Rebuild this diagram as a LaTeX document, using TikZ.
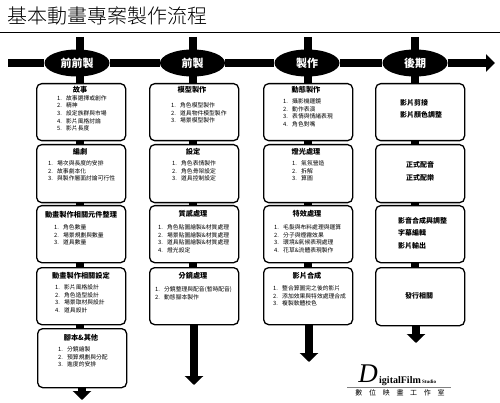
\documentclass[tikz,border=0pt]{standalone}
\usepackage{fontspec}
\setmainfont{Noto Sans CJK TC}
\newfontfamily\titlefont{Noto Sans CJK TC Light}
\newfontfamily\logofont{Liberation Serif}
\usetikzlibrary{arrows.meta,shapes.geometric}
\pgfdeclarelayer{back}
\pgfsetlayers{back,main}
\newcommand{\nm}[1]{\makebox[9pt][l]{#1.}}
\tikzset{
  x=1pt,y=-1pt,
  stage/.style={ellipse,fill=black,text=white,inner sep=0pt,minimum width=65pt,minimum height=27pt,font=\bfseries\fontsize{11}{11}\selectfont},
  card/.style={draw=black,line width=1.3pt,fill=white,rounded corners=5pt,minimum width=89pt,inner sep=0pt,anchor=north west},
  head/.style={font=\bfseries\fontsize{7.2}{8}\selectfont,inner sep=0pt},
  items/.style={anchor=north west,align=left,inner sep=0pt,font=\fontsize{5.8}{7.67}\selectfont},
  big/.style={anchor=west,inner sep=0pt,font=\bfseries\fontsize{7}{8}\selectfont},
  bar/.style={line width=8pt,draw=black},
  drop/.style={line width=8pt,draw=black,-{Triangle[length=9pt,width=18pt]}},
  mainarrow/.style={line width=8pt,draw=black,-{Triangle[length=9pt,width=17pt]}},
}
\begin{document}
\begin{tikzpicture}
\useasboundingbox (0,0) rectangle (500,403);
\node[anchor=west,inner sep=0pt,font=\titlefont\fontsize{20}{20}\selectfont] (title) at (7,16) {基本動畫專案製作流程};
\coordinate (ruleL) at (0,33); \coordinate (ruleR) at (500,33);
\draw[line width=1pt] (ruleL) -- (ruleR);

\coordinate (axisS) at (8,63); \coordinate (axisE) at (495,63);
\coordinate (t1) at (80,37); \coordinate (t2) at (193,37); \coordinate (t3) at (308,37); \coordinate (t4) at (415,37);
\coordinate (e1) at (82,400); \coordinate (e2) at (194,385); \coordinate (e3) at (309,362); \coordinate (e4) at (416,343);

\node[stage] (s1) at (77,63) {前前製};
\node[stage] (s2) at (192.5,63) {前製};
\node[stage] (s3) at (307,63) {製作};
\node[stage] (s4) at (415,63) {後期};

% column 1
\node[card,minimum height=57pt] (a1) at (36,83) {};
\node[card,minimum height=58pt] (a2) at (36,144) {};
\node[card,minimum height=57pt] (a3) at (36,205) {};
\node[card,minimum height=57pt] (a4) at (36,267) {};
\node[card,minimum height=59pt] (a5) at (37,328) {};
\node[head] (a1h) at (80,90) {故事};
\node[items] (a1l) at (57,95) {\nm1故事選擇或創作\\\nm2精神\\\nm3設定族群與市場\\\nm4影片風格討論\\\nm5影片長度};
\node[head] (a2h) at (80,152) {編劇};
\node[items] (a2l) at (48,160.5) {\nm1場次與長度的安排\\\nm2故事劇本化\\\nm3與製作層面討論可行性};
\node[head] (a3h) at (81,215) {動畫製作相關元件整理};
\node[items] (a3l) at (54,224.5) {\nm1角色數量\\\nm2場景規劃與數量\\\nm3道具數量};
\node[head] (a4h) at (81,276) {動畫製作相關設定};
\node[items] (a4l) at (55,284.5) {\nm1影片風格設計\\\nm2角色造型設計\\\nm3場景取材與設計\\\nm4道具設計};
\node[head] (a5h) at (81,338) {腳本\&其他};
\node[items] (a5l) at (58,346.5) {\nm1分鏡繪製\\\nm2預算規劃與分配\\\nm3進度的安排};

% column 2
\node[card,minimum height=57pt] (b1) at (149,83) {};
\node[card,minimum height=58pt] (b2) at (149,144) {};
\node[card,minimum height=57pt] (b3) at (149,205) {};
\node[card,minimum height=57pt] (b4) at (149,267) {};
\node[head] (b1h) at (192,89.5) {模型製作};
\node[items] (b1l) at (171,102.5) {\nm1角色模型製作\\\nm2道具物件模型製作\\\nm3場景模型製作};
\node[head] (b2h) at (193,152) {設定};
\node[items] (b2l) at (172,160.5) {\nm1角色表情製作\\\nm2角色骨架設定\\\nm3道具控制設定};
\node[head] (b3h) at (193,214) {質感處理};
\node[items] (b3l) at (158,224.5) {\nm1角色貼圖繪製\&材質處理\\\nm2場景貼圖繪製\&材質處理\\\nm3道具貼圖繪製\&材質處理\\\nm4燈光設定};
\node[head] (b4h) at (193,276) {分鏡處理};
\node[items] (b4l) at (155,286.5) {\nm1分鏡整理與配音(暫時配音)\\\nm2動態腳本製作};

% column 3
\node[card,minimum height=57pt] (c1) at (263,83) {};
\node[card,minimum height=58pt] (c2) at (263,144) {};
\node[card,minimum height=57pt] (c3) at (263,205) {};
\node[card,minimum height=57pt] (c4) at (263,267) {};
\node[head] (c1h) at (306,90) {動態製作};
\node[items] (c1l) at (283,98.5) {\nm1攝影機運鏡\\\nm2動作表演\\\nm3表情與情緒表現\\\nm4角色對嘴};
\node[head] (c2h) at (306,152) {燈光處理};
\node[items] (c2l) at (292,160.5) {\nm1氣氛營造\\\nm2拆解\\\nm3算圖};
\node[head] (c3h) at (307,214) {特效處理};
\node[items] (c3l) at (274,224.5) {\nm1毛髮與布料處理與運算\\\nm2分子與煙霧效果\\\nm3環境\&氣候表現處理\\\nm4花草\&流體表現製作};
\node[head] (c4h) at (307,276) {影片合成};
\node[items] (c4l) at (273,285.5) {\nm1整合算圖完之後的影片\\\nm2添加效果與特效處理合成\\\nm3複製軟體校色};

% column 4
\node[card,minimum height=57pt] (d1) at (375,83) {};
\node[card,minimum height=58pt] (d2) at (375,144) {};
\node[card,minimum height=57pt] (d3) at (375,205) {};
\node[card,minimum height=58pt] (d4) at (375,267) {};
\node[big] (d1a) at (400,103) {影片剪接};
\node[big] (d1b) at (400,115) {影片顏色調整};
\node[big] (d2a) at (406,165) {正式配音};
\node[big] (d2b) at (406,178) {正式配樂};
\node[big] (d3a) at (398,221) {影音合成與調整};
\node[big] (d3b) at (398,233) {字幕編輯};
\node[big] (d3c) at (398,246) {影片輸出};
\node[big] (d4a) at (405,296) {發行相關};

% connectors behind the nodes
\begin{pgfonlayer}{back}
\fill[white] (0,0) rectangle (500,403);
\draw[bar] (axisS) -- (s1);
\draw[bar] (s1) -- (s2);
\draw[bar] (s2) -- (s3);
\draw[bar] (s3) -- (s4);
\draw[mainarrow] (s4) -- (axisE);
\draw[bar] (t1) -- (t1 |- a1.north);
\draw[bar] (t2) -- (t2 |- b1.north);
\draw[bar] (t3) -- (t3 |- c1.north);
\draw[bar] (t4) -- (t4 |- d1.north);
\foreach \u/\v/\w in {a1/a2/t1,a2/a3/t1,a3/a4/t1,a4/a5/t1,b1/b2/t2,b2/b3/t2,b3/b4/t2,c1/c2/t3,c2/c3/t3,c3/c4/t3,d1/d2/t4,d2/d3/t4,d3/d4/t4}
  \draw[bar] (\u.south -| \w) -- (\v.north -| \w);
\draw[drop] (a5.south -| e1) -- (e1);
\draw[drop] (b4.south -| e2) -- (e2);
\draw[drop] (c4.south -| e3) -- (e3);
\draw[drop] (d4.south -| e4) -- (e4);
\end{pgfonlayer}

% logo
\node[inner sep=0pt,font=\logofont\itshape\fontsize{27}{27}\selectfont] (ld) at (368,374) {D};
\node[anchor=base west,inner sep=0pt,font=\logofont\bfseries\fontsize{10}{10}\selectfont] (lf) at (379,383) {igitalFilm};
\node[anchor=base west,inner sep=0pt,font=\logofont\bfseries\fontsize{5}{5}\selectfont] (ls) at (422,383) {Studio};
\coordinate (lrL) at (347,387); \coordinate (lrR) at (451,387);
\draw[line width=0.9pt,gray] (lrL) -- (lrR);
\node[inner sep=0pt,font=\fontsize{7}{7}\selectfont] (lc) at (400,393) {數\hspace{6.7pt}位\hspace{6.7pt}映\hspace{6.7pt}畫\hspace{6.7pt}工\hspace{6.7pt}作\hspace{6.7pt}室};
\end{tikzpicture}
\end{document}
